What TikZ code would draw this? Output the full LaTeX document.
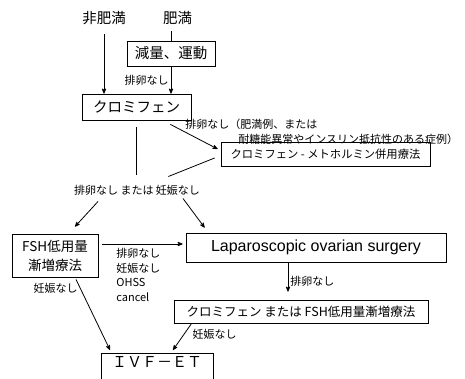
\documentclass[tikz,border=0pt]{standalone}
\usepackage{fontspec}
\setmainfont{Noto Sans CJK JP}
\newfontfamily\latinfont{Liberation Sans}
\usetikzlibrary{arrows}

\newcommand{\fsize}[2]{\fontsize{#1}{#2}\selectfont}

\begin{document}
\begin{tikzpicture}
            [x=1pt,y=1pt,>=stealth',line width=0.8pt,
             box/.style={draw,rectangle,inner sep=2pt,font=\fsize{14.5}{18}},
             lbl/.style={inner sep=2pt,font=\fsize{11}{14.5}}]

            \useasboundingbox (0,0) rectangle (465,378);
            \clip (0,0) rectangle (465,378);

            % starting point
            \node (nonobese) [font=\fsize{14.5}{18}] at (104,360) {非肥満};
            \node (obese) [font=\fsize{14.5}{18}] at (177.5,360) {肥満};
            \node (diet) [box,minimum width=88,minimum height=25] at (171,324.5) {減量、運動};
            \node (clomid) [box,minimum width=109,minimum height=26] at (136.5,271) {クロミフェン};
            \node (metformin) [box,minimum width=209,minimum height=24,font=\fsize{11.3}{14}] at (325.5,224) {クロミフェン - メトホルミン併用療法};
            \node (cond) [lbl] at (137,188) {排卵なし または 妊娠なし};

            % second line treatments
            \node (fsh) [box,minimum width=86,minimum height=43,align=center,font=\fsize{13.5}{19}] at (55,122.5) {FSH低用量\\漸増療法};
            \node (lap) [box,minimum width=260,minimum height=29,font=\latinfont\fsize{16}{18}] at (316,130.5) {Laparoscopic ovarian surgery};
            \node (cfsh) [box,minimum width=254,minimum height=23,font=\fsize{12.5}{15}] at (301,66.5) {クロミフェン または FSH低用量漸増療法};
            \node (ivf) [box,anchor=north,minimum width=112,inner ysep=3pt,text depth=16pt,font=\fsize{15}{18}] at (157,25) {ＩＶＦ－ＥＴ};

            % labels
            \node (metlbl) [lbl,align=left,anchor=north west] at (183,261) {排卵なし（肥満例、または\\\hspace*{53pt}耐糖能異常やインスリン抵抗性のある症例）};
            \node (fshlbl) [lbl,align=left,anchor=north west] at (114,132) {排卵なし\\妊娠なし\\OHSS\\cancel};

            \coordinate (fshout) at ([yshift=11.5pt]fsh.east);
            \coordinate (lapout) at ([xshift=-28pt]lap.south);

            \draw[->,shorten <=6pt] (nonobese.south) -- (nonobese.south |- clomid.north);
            \draw[shorten <=3pt] (obese.south -| diet.north) -- (diet.north);
            \draw[->] (diet.south) -- (diet.south |- clomid.north) node[lbl,midway,left] {排卵なし};
            \draw[->] ([shift={(-21,-4)}]clomid.south east) -- ([shift={(-3,5)}]metformin.west);
            \draw ([shift={(-6,-4)}]metformin.west) -- ([shift={(-34,6)}]cond.north east);
            \draw[shorten <=7pt,shorten >=8pt] (clomid.south) -- (clomid.south |- cond.north);
            \draw[->] ([shift={(-39,-4)}]cond.south) -- ([shift={(20,7)}]fsh.north);
            \draw[->] ([shift={(46,-1)}]cond.south) -- ([shift={(19,5)}]lap.north west);
            \draw[->,shorten <=4pt,shorten >=3pt] (fshout) -- (fshout -| lap.west);
            \draw[->,shorten >=8pt] (lapout) -- (lapout |- cfsh.north) node[lbl,midway,right] {排卵なし};
            \draw[->] ([xshift=18]cfsh.south west) -- ([shift={(16,3)}]ivf.north) node[lbl,pos=0.4,right,xshift=6pt] {妊娠なし};
            \draw[->] ([shift={(21,-2)}]fsh.south) -- ([shift={(-47,3)}]ivf.north) node[lbl,pos=0.12,left] {妊娠なし};
        \end{tikzpicture}
\end{document}
